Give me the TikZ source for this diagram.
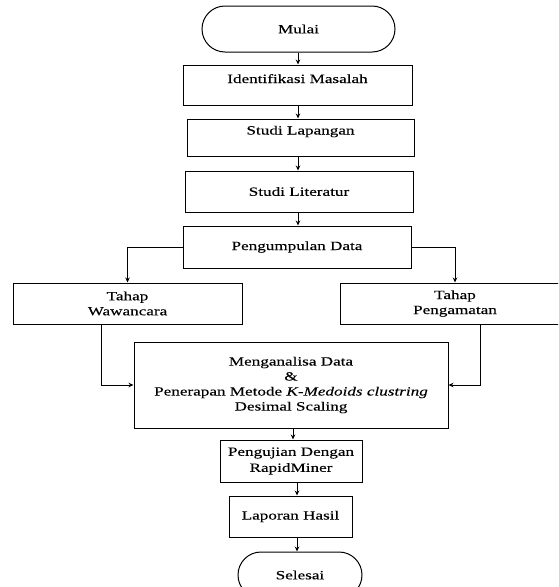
\documentclass[tikz,border=0pt]{standalone}
\usepackage{fontspec}
\setmainfont[FakeStretch=1.36,FakeBold=0.2]{Liberation Serif}
\usetikzlibrary{arrows.meta,shapes.misc}
\begin{document}
\begin{tikzpicture}[x=1pt,y=-1pt,
  box/.style={draw,line width=1pt,rectangle,inner sep=0pt,align=center,
    font=\fontsize{12.6}{15}\selectfont},
  term/.style={box,rounded rectangle},
  arr/.style={-{Stealth[length=5pt,width=4.5pt]},line width=0.9pt}]
\useasboundingbox (0,0) rectangle (558,587);
\clip (0,0) rectangle (558,587);
% nodes
\node[term,minimum width=193pt,minimum height=46pt] (mulai) at (298.5,29) {Mulai};
\node[box,minimum width=229pt,text height=18pt,text depth=22pt] (idf) at (297.5,85) {Identifikasi Masalah};
\node[box,minimum width=227pt,text height=15.5pt,text depth=21.5pt] (lap) at (300.5,137.5) {Studi Lapangan};
\node[box,minimum width=228pt,minimum height=41pt] (lit) at (299,191.5) {Studi Literatur};
\node[box,minimum width=228pt,minimum height=42pt] (pg) at (297,247) {Pengumpulan Data};
\node[box,minimum width=229pt,minimum height=41pt] (ww) at (127.5,303.5) {Tahap\\Wawancara};
\node[box,minimum width=230pt,minimum height=41pt] (pm) at (455,303.5) {Tahap\\Pengamatan};
\node[box,minimum width=314pt,minimum height=86pt] (main) at (291,385) {Menganalisa Data\\\&\\Penerapan Metode \textit{K-Medoids clustring}\\Desimal Scaling};
\node[box,minimum width=142pt,minimum height=42pt] (pj) at (291,461) {Pengujian Dengan\\[1pt]RapidMiner};
\node[box,minimum width=123pt,minimum height=41pt] (lh) at (290.5,516.5) {Laporan Hasil};
\node[term,minimum width=124pt,minimum height=46pt] (sel) at (300,575) {Selesai};
% spine coordinates
\coordinate (sA) at (298,0);
\coordinate (sB) at (293,0);
\coordinate (sC) at (297,0);
\coordinate (wx) at (101,0);
\coordinate (px) at (480,0);
% connectors
\draw[arr] (mulai.south -| sA) -- (idf.north -| sA);
\draw[arr] (idf.south -| sA) -- (lap.north -| sA);
\draw[arr] (lap.south -| sA) -- (lit.north -| sA);
\draw[arr] (lit.south -| sA) -- (pg.north -| sA);
\draw[arr] (pg.west) -| (ww.north);
\draw[arr] (pg.east) -| (pm.north);
\draw[arr] (ww.south -| wx) |- (main.west);
\draw[arr] (pm.south -| px) |- (main.east);
\draw[arr] (main.south -| sB) -- (pj.north -| sB);
\draw[arr] (pj.south -| sC) -- (lh.north -| sC);
\draw[arr] (lh.south -| sC) -- (sel.north -| sC);
\end{tikzpicture}
\end{document}
